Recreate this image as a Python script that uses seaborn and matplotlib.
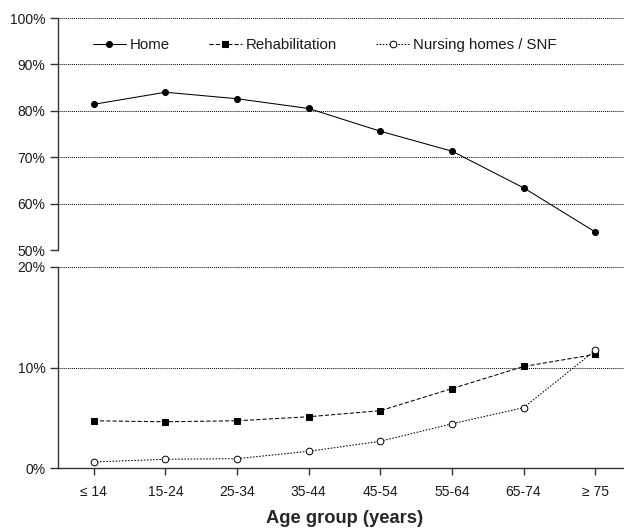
import matplotlib
matplotlib.use("Agg")
import matplotlib.pyplot as plt
import seaborn as sns
import pandas as pd
from matplotlib.ticker import FuncFormatter

# Discharge destination by age group (percent of patients)
age_groups = ["≤ 14", "15-24", "25-34", "35-44", "45-54", "55-64", "65-74", "≥ 75"]
home = [81.4, 84.0, 82.6, 80.5, 75.6, 71.3, 63.4, 53.9]
rehabilitation = [4.7, 4.6, 4.7, 5.1, 5.7, 7.9, 10.1, 11.3]
nursing_snf = [0.6, 0.87, 0.93, 1.66, 2.66, 4.4, 6.0, 11.7]

top_ticks = [50, 60, 70, 80, 90, 100]
bottom_ticks = [0, 10, 20]

sns.set_theme(style="white")
plt.rcParams["font.family"] = ["Liberation Sans", "DejaVu Sans"]
plt.rcParams["font.size"] = 10

W, H = 624, 528
fig = plt.figure(figsize=(W / 100, H / 100), dpi=100)

left, right = 58 / W, 631 / W
ax_top = fig.add_axes([left, (H - 250) / H, right - left, (250 - 18) / H])
ax_bot = fig.add_axes([left, (H - 468) / H, right - left, (468 - 267) / H])

df = pd.DataFrame({"age": age_groups, "home": home,
                   "rehab": rehabilitation, "nursing": nursing_snf})

lw = 0.75
sns.lineplot(data=df, x="age", y="home", ax=ax_top, color="black", lw=lw,
             marker="o", markersize=4.3, markeredgecolor="black",
             markerfacecolor="black", label="Home", sort=False)
sns.lineplot(data=df, x="age", y="rehab", ax=ax_bot, color="black", lw=lw,
             linestyle=(0, (4, 2)), marker="s", markersize=4.3,
             markeredgecolor="black", markerfacecolor="black",
             label="Rehabilitation", sort=False)
sns.lineplot(data=df, x="age", y="nursing", ax=ax_bot, color="black", lw=lw,
             linestyle=(0, (1.5, 1.5)), marker="o", markersize=4.8,
             markeredgecolor="black", markerfacecolor="white",
             markeredgewidth=0.7, label="Nursing homes / SNF", sort=False)

pct = FuncFormatter(lambda v, _: f"{v:.0f}%")
for ax, lim, ticks in ((ax_top, (50, 100), top_ticks), (ax_bot, (0, 20), bottom_ticks)):
    ax.set_xlim(-0.5, len(age_groups) - 0.5)
    ax.set_ylim(*lim)
    ax.set_yticks(ticks)
    ax.yaxis.set_major_formatter(pct)
    ax.set_facecolor("white")
    ax.grid(axis="y", color="black", linestyle=(0, (1, 1)), linewidth=0.7)
    ax.grid(axis="x", visible=False)
    for s in ("top", "right"):
        ax.spines[s].set_visible(False)
    ax.spines["left"].set_color("#333333")
    ax.spines["left"].set_linewidth(1.0)
    ax.tick_params(axis="y", left=True, direction="out", length=6, width=1,
                   color="#333333", labelsize=10, pad=3, labelcolor="#1a1a1a")
    ax.set_ylabel("")
    ax.set_xlabel("")

ax_top.spines["bottom"].set_visible(False)
ax_top.tick_params(axis="x", bottom=False, labelbottom=False)

ax_bot.spines["bottom"].set_color("#333333")
ax_bot.spines["bottom"].set_linewidth(1.0)
ax_bot.tick_params(axis="x", bottom=True, direction="out", length=5, width=1,
                   color="#333333", labelsize=10, pad=7, labelcolor="#1a1a1a")
ax_bot.set_xlabel("Age group (years)", fontsize=13.2, fontweight="bold", labelpad=8)

# Single legend in the upper panel collecting all three series
handles = ax_top.get_lines()[:1] + ax_bot.get_lines()[:2]
if ax_bot.get_legend() is not None:
    ax_bot.get_legend().remove()
ax_top.legend(handles=handles, labels=["Home", "Rehabilitation", "Nursing homes / SNF"],
              loc="upper left", bbox_to_anchor=(0.05, 0.94), ncol=3, frameon=False,
              fontsize=10.8, handlelength=2.2, handletextpad=0.27, columnspacing=2.6,
              borderaxespad=0, labelcolor="#1a1a1a")

fig.savefig("out.png", dpi=100, facecolor="white")
